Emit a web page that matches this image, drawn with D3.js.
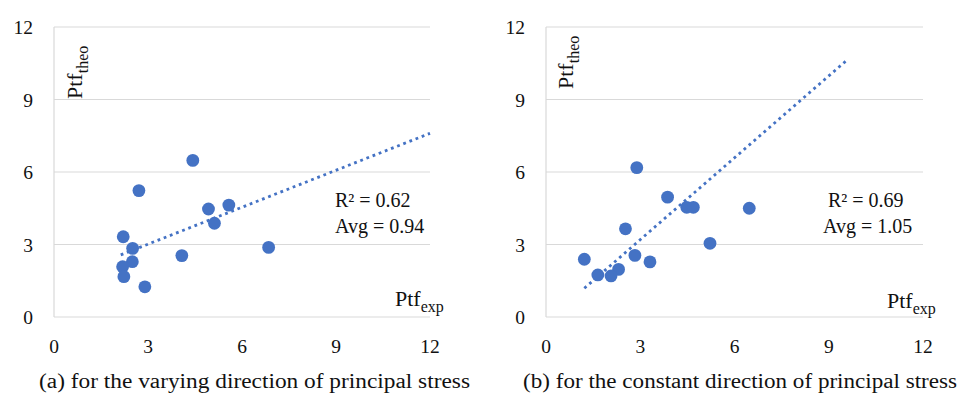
<!DOCTYPE html>
<html>
<head>
<meta charset="utf-8">
<script src="https://cdn.jsdelivr.net/npm/d3@7"></script>
<style>
  body { margin: 0; background: #fff; }
  text { font-family: "Liberation Serif", "DejaVu Serif", serif; fill: #111; }
</style>
</head>
<body>
<svg id="chart" width="961" height="397"></svg>
<script>
// values
let ticks = [0, 3, 6, 9, 12];

let expA = [4.43, 2.71, 4.93, 5.58, 5.12, 2.21, 2.51, 4.08, 6.85, 2.50, 2.19, 2.23, 2.90];
let theoA = [6.48, 5.23, 4.47, 4.63, 3.88, 3.32, 2.84, 2.54, 2.88, 2.29, 2.08, 1.67, 1.25];
let trendA = [[2.13, 2.57], [12, 7.6]];

let expB = [2.89, 3.87, 4.48, 4.69, 6.47, 2.53, 5.22, 2.83, 1.22, 3.31, 2.31, 2.07, 1.65];
let theoB = [6.18, 4.96, 4.54, 4.54, 4.50, 3.65, 3.05, 2.55, 2.39, 2.28, 1.97, 1.70, 1.74];
let trendB = [[1.22, 1.19], [9.58, 10.63]];

let statsA = ["R² = 0.62", "Avg = 0.94"];
let statsB = ["R² = 0.69", "Avg = 1.05"];
let captionA = "(a) for the varying direction of principal stress";
let captionB = "(b) for the constant direction of principal stress";

let svg = d3.select("#chart");
let blue = "#4472c4";

function drawPanel(opt) {
  let x = d3.scaleLinear().domain([0, 12]).range([opt.left, opt.right]);
  let y = d3.scaleLinear().domain([0, 12]).range([317, 27]);
  let g = svg.append("g");

  // gridlines
  g.selectAll(".grid").data(ticks).enter().append("line")
    .attr("x1", x(0)).attr("x2", x(12))
    .attr("y1", d => y(d)).attr("y2", d => y(d))
    .attr("stroke", "#d9d9d9").attr("stroke-width", 1.2);
  g.append("line")
    .attr("x1", x(0)).attr("x2", x(0)).attr("y1", y(0)).attr("y2", y(12))
    .attr("stroke", "#d9d9d9").attr("stroke-width", 1.2);

  // tick labels
  g.selectAll(".ylab").data(ticks).enter().append("text")
    .attr("x", x(0) - 21).attr("y", d => y(d) + 7)
    .attr("text-anchor", "end").attr("font-size", 19.5)
    .text(d => d);
  g.selectAll(".xlab").data(ticks).enter().append("text")
    .attr("x", d => x(d)).attr("y", 353)
    .attr("text-anchor", "middle").attr("font-size", 19.5)
    .text(d => d);

  // trendline
  g.append("path")
    .datum(opt.trend)
    .attr("d", d3.line().x(d => x(d[0])).y(d => y(d[1])))
    .attr("fill", "none").attr("stroke", blue)
    .attr("stroke-width", 2.8).attr("stroke-dasharray", "2.8,3.8");

  // points
  g.selectAll(".pt").data(opt.xs).enter().append("circle")
    .attr("cx", d => x(d)).attr("cy", (d, i) => y(opt.ys[i]))
    .attr("r", 6.4).attr("fill", blue);

  // stats
  g.selectAll(".stat").data(opt.stats).enter().append("text")
    .attr("x", (d, i) => opt.statX[i]).attr("y", (d, i) => 207 + i * 26)
    .attr("font-size", 20).text(d => d);

  // axis titles
  let yt = g.append("text")
    .attr("transform", "translate(" + opt.ytX + "," + opt.ytY + ") rotate(-90)")
    .attr("font-size", 22);
  yt.append("tspan").text("Ptf");
  yt.append("tspan").attr("font-size", 16).attr("dy", 6).text("theo");

  let xt = g.append("text")
    .attr("x", opt.xtX).attr("y", opt.xtY).attr("font-size", 22);
  xt.append("tspan").text("Ptf");
  xt.append("tspan").attr("font-size", 16).attr("dy", 6).text("exp");

  // caption
  g.append("text")
    .attr("x", opt.capX).attr("y", 388).attr("font-size", 20)
    .attr("textLength", opt.capW).attr("lengthAdjust", "spacingAndGlyphs")
    .text(opt.caption);
}

drawPanel({
  left: 54, right: 430, xs: expA, ys: theoA, trend: trendA,
  stats: statsA, statX: [335, 335],
  ytX: 82, ytY: 99, xtX: 395, xtY: 306,
  caption: captionA, capX: 39, capW: 431
});

drawPanel({
  left: 546, right: 923, xs: expB, ys: theoB, trend: trendB,
  stats: statsB, statX: [828, 823],
  ytX: 573, ytY: 89, xtX: 887, xtY: 308,
  caption: captionB, capX: 523, capW: 434
});
</script>
</body>
</html>
